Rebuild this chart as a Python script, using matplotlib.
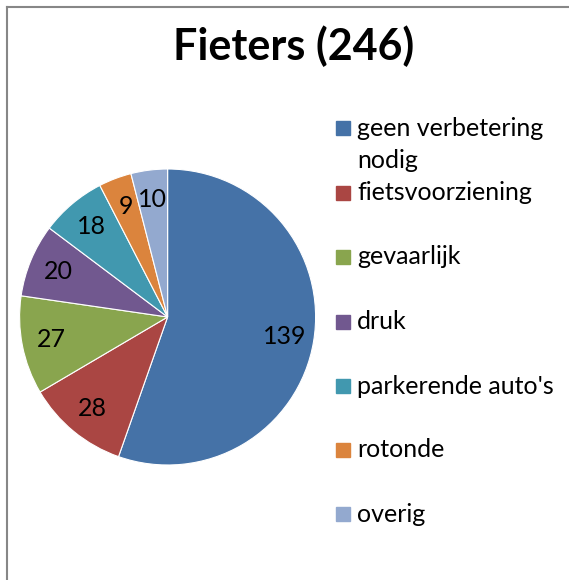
import matplotlib
matplotlib.use("Agg")
from matplotlib import pyplot as plt
from matplotlib.lines import Line2D
from matplotlib.patches import Rectangle

categories = ["geen verbetering\nnodig", "fietsvoorziening", "gevaarlijk", "druk",
              "parkerende auto's", "rotonde", "overig"]
values = [139, 28, 27, 20, 18, 9, 10]
colors = ["#4572A7", "#AA4643", "#89A54E", "#71588F", "#4198AF", "#DB843D", "#93A9CF"]
title = "Fieters (246)"

W, H = 569, 580
plt.rcParams['font.family'] = ['Lato', 'DejaVu Sans']

fig = plt.figure(figsize=(W / 100, H / 100), dpi=100)

# overlay in pixel coords for border, title and legend
ov = fig.add_axes([0, 0, 1, 1])
ov.set_xlim(0, W)
ov.set_ylim(H, 0)
ov.axis("off")

ov.add_line(Line2D([7, 7], [7, H], color="#878787", lw=1.5))
ov.add_line(Line2D([7, W], [7, 7], color="#878787", lw=1.5))

ov.text(293.5, 46, title, ha="center", va="center", fontsize=31, fontweight="bold")

# pie
cx, cy, r = 167.6, 317, 148
pax = fig.add_axes([(cx - r) / W, (H - cy - r) / H, 2 * r / W, 2 * r / H])
total = sum(values)
pax.pie(values, colors=colors, startangle=90, counterclock=False,
        wedgeprops=dict(edgecolor="white", linewidth=0.8),
        autopct=lambda p: "%d" % round(p * total / 100), pctdistance=0.8,
        textprops=dict(fontsize=18))
pax.set_xlim(-1, 1)
pax.set_ylim(-1, 1)

# legend
ys = [128, 193, 257, 321.5, 386, 449.5, 514]
for lab, col, y in zip(categories, colors, ys):
    ov.add_patch(Rectangle((336, y - 7), 14, 14, color=col))
    for k, line in enumerate(lab.split("\n")):
        ov.text(357, y + 7.5 + 32 * k, line, ha="left", va="baseline", fontsize=18)

fig.savefig("out.png", dpi=100)
